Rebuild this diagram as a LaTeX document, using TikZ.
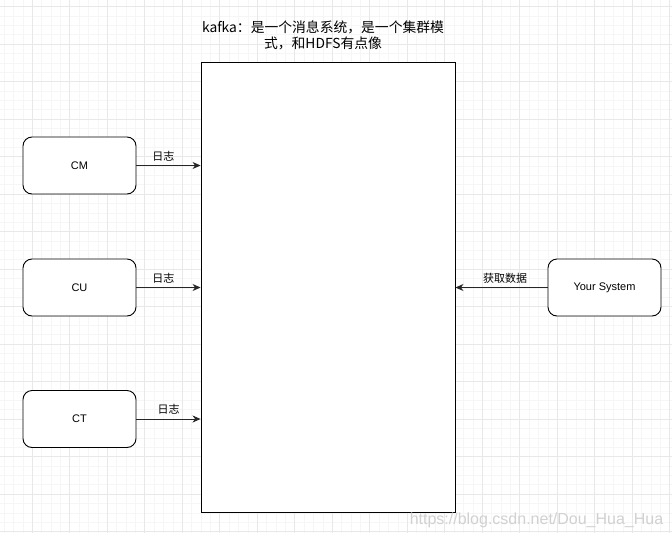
\documentclass[tikz,border=0pt]{standalone}
\usepackage{fontspec}
\setmainfont{Liberation Sans}
\newfontfamily\cjk{Noto Sans CJK SC}
\usetikzlibrary{arrows.meta}
\definecolor{minorgrid}{HTML}{F6F6F6}
\definecolor{majorgrid}{HTML}{E8E8E8}
\tikzset{
  box/.style={draw=black, rounded corners=9, minimum width=113, minimum height=57,
    font=\fontsize{11}{13}\selectfont, line width=0.9},
  bigbox/.style={draw=black, minimum width=254, minimum height=450, line width=0.9},
  arr/.style={draw=black!85, line width=0.9, -{Stealth[length=8,width=7,inset=2.5]}},
  lbl/.style={font=\cjk\fontsize{11}{13}\selectfont, inner sep=1},
}
\begin{document}
\begin{tikzpicture}[x=1pt,y=-1pt]
\useasboundingbox (0,0) rectangle (672,533);
\fill[white] (0,0) rectangle (672,533);
% grid
\foreach \i in {0,...,73} {\draw[minorgrid,line width=0.7] ({-5.2+9.375*\i},0) -- ++(0,533);}
\foreach \i in {0,...,58} {\draw[minorgrid,line width=0.7] (0,{-2.675+9.375*\i}) -- ++(672,0);}
\foreach \i in {0,...,18} {\draw[majorgrid,line width=0.9] ({-5.2+37.5*\i},0) -- ++(0,533);}
\foreach \i in {0,...,14} {\draw[majorgrid,line width=0.9] (0,{6.7+37.5*\i}) -- ++(672,0);}
% nodes
\node[bigbox, fill=white] (kafka) at (328,287.5) {};
\node[box, fill=white] (cm) at (79.5,165.5) {CM};
\node[box, fill=white] (cu) at (79.5,287.5) {CU};
\node[box, fill=white] (ct) at (79.5,419) {CT};
\node[box, fill=white] (ys) at (604.5,287.5) {Your System};
\node[font=\cjk\fontsize{13.8}{16}\selectfont, align=center, inner sep=0] (title) at (323,35)
  {kafka：是一个消息系统，是一个集群模\\式，和HDFS有点像};
% connectors
\draw[arr] (cm.east) -- node[lbl, pos=0.42, above=3pt] (l1) {日志} (cm.east -| kafka.west);
\draw[arr] (cu.east) -- node[lbl, pos=0.42, above=3pt] (l2) {日志} (cu.east -| kafka.west);
\draw[arr] (ct.east) -- node[lbl, pos=0.5, above=3pt] (l3) {日志} (ct.east -| kafka.west);
\draw[arr] (ys.west) -- node[lbl, pos=0.46, above=3pt] (l4) {获取数据} (ys.west -| kafka.east);
% watermark
\node[text=black!18, font=\fontsize{16}{18}\selectfont, inner sep=0] (wm) at (536.5,520) {https://blog.csdn.net/Dou\_Hua\_Hua};
\end{tikzpicture}
\end{document}
